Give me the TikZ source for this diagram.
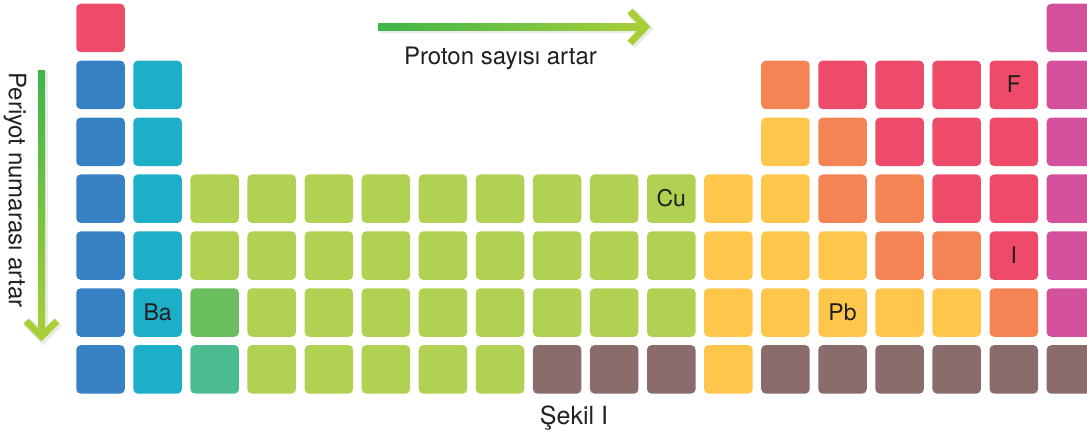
\documentclass[tikz,border=0pt]{standalone}
\usepackage{fontspec}
\setmainfont{TeX Gyre Heros}
\usepackage{xcolor}
\usepackage{tikz}

\definecolor{pred}{HTML}{EE4A69}
\definecolor{pmag}{HTML}{D3519C}
\definecolor{pblue}{HTML}{3581C3}
\definecolor{pcyan}{HTML}{1EAFC8}
\definecolor{plgreen}{HTML}{B0D152}
\definecolor{pmgreen}{HTML}{6BBF5F}
\definecolor{pteal}{HTML}{4ABC8F}
\definecolor{pyellow}{HTML}{FEC74B}
\definecolor{porange}{HTML}{F48454}
\definecolor{pbrown}{HTML}{8A6C6C}
\definecolor{agreen}{HTML}{3DB54A}
\definecolor{ayellow}{HTML}{A8CF38}
\definecolor{ink}{HTML}{231F20}

\tikzset{
  cell/.style={minimum size=48.5pt, inner sep=0pt, rounded corners=4.5pt},
  elem/.style={text=ink, font=\fontsize{23}{23}\selectfont, inner sep=0pt, anchor=base},
  caption/.style={text=ink, font=\fontsize{24}{24}\selectfont, inner sep=0pt, anchor=base},
  chevron/.style={line width=7pt, ayellow, line join=miter},
  shadowline/.style={line width=10pt, black!8, line join=miter},
}

\begin{document}
\begin{tikzpicture}[x=1pt, y=-1pt]
\useasboundingbox (0,0) rectangle (1087,436);
\clip (0,0) rectangle (1087,436);

% Cells, row by row: first column / last column / colour
\foreach \r/\runs in {%
  1/{1/1/pred, 18/18/pmag},
  2/{1/1/pblue, 2/2/pcyan, 13/13/porange, 14/17/pred, 18/18/pmag},
  3/{1/1/pblue, 2/2/pcyan, 13/13/pyellow, 14/14/porange, 15/17/pred, 18/18/pmag},
  4/{1/1/pblue, 2/2/pcyan, 3/11/plgreen, 12/13/pyellow, 14/15/porange, 16/17/pred, 18/18/pmag},
  5/{1/1/pblue, 2/2/pcyan, 3/11/plgreen, 12/14/pyellow, 15/16/porange, 17/17/pred, 18/18/pmag},
  6/{1/1/pblue, 2/2/pcyan, 3/3/pmgreen, 4/11/plgreen, 12/16/pyellow, 17/17/porange, 18/18/pmag},
  7/{1/1/pblue, 2/2/pcyan, 3/3/pteal, 4/8/plgreen, 9/11/pbrown, 12/12/pyellow, 13/18/pbrown}%
}{
  \foreach \a/\b/\col in \runs {
    \foreach \c in {\a,...,\b}
      \node[cell, fill=\col] (e\r-\c) at ({100.5+(\c-1)*57.08}, {28+(\r-1)*56.9}) {};
  }
}

% Element symbols
\node[elem] (f) at ([yshift=-7.5pt]e2-17.center) {F};
\node[elem] (cu) at ([yshift=-7.5pt]e4-11.center) {Cu};
\node[elem] (i) at ([yshift=-7.5pt]e5-17.center) {I};
\node[elem] (ba) at ([yshift=-7.5pt]e6-2.center) {Ba};
\node[elem] (pb) at ([yshift=-7.5pt]e6-14.center) {Pb};

% Proton arrow (left to right)
\draw[shadowline] (380,28.5) -- (643,28.5);
\draw[shadowline] (631.5,12.5) -- (647,28.5) -- (631.5,44.5);
\shade[left color=agreen, right color=ayellow] (378,23.5) rectangle (642,30.5);
\draw[chevron] (630,11) -- (645.5,27) -- (630,43);
\node[caption] (proton) at (500.5,65) {Proton sayısı artar};

% Period arrow (top to bottom)
\draw[shadowline] (43,72.5) -- (43,336);
\draw[shadowline] (27.5,322.5) -- (43,338) -- (58.5,322.5);
\shade[top color=agreen, bottom color=ayellow] (38,71) rectangle (45,334);
\draw[chevron] (26,321) -- (41.5,336.5) -- (57,321);
\node[caption, rotate=-90] (periyot) at (9,190) {Periyot numarası artar};

% Caption
\node[caption, font=\fontsize{25}{25}\selectfont] (sekil) at (574,424) {Şekil I};

\end{tikzpicture}
\end{document}
